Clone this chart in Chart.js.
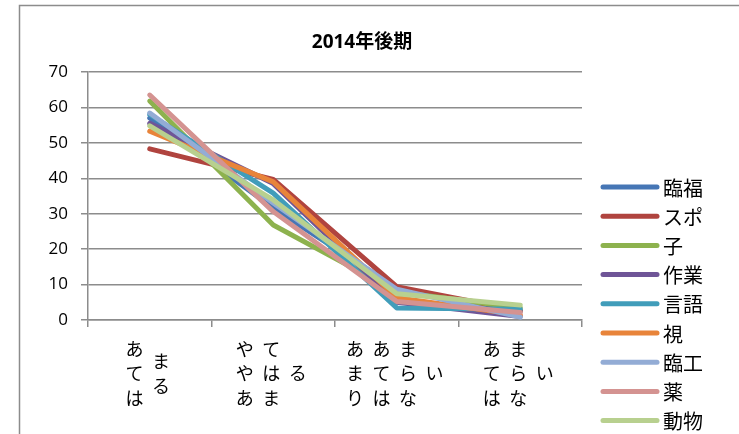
<!DOCTYPE html>
<html>
<head>
<meta charset="utf-8">
<script src="https://cdn.jsdelivr.net/npm/chart.js@4.4.0/dist/chart.umd.min.js"></script>
<style>
  html, body { margin: 0; padding: 0; background: #fff; }
  #wrap { width: 739px; height: 434px; }
</style>
</head>
<body>
<div id="wrap"><canvas id="c" width="739" height="434"></canvas></div>
<script>
const titleText = '2014年後期';
const categories = ['あてはまる', 'ややあてはまる', 'あまりあてはまらない', 'あてはまらない'];
const seriesNames = ['臨福', 'スポ', '子', '作業', '言語', '視', '臨工', '薬', '動物'];
const s臨福 = [57.0, 31.6, 9.0, 2.4];
const sスポ = [48.3, 39.7, 9.4, 2.6];
const s子 = [61.8, 26.8, 8.0, 3.4];
const s作業 = [55.5, 38.5, 5.0, 1.0];
const s言語 = [58.0, 35.8, 3.4, 3.0];
const s視 = [53.3, 39.0, 6.3, 1.4];
const s臨工 = [58.4, 33.0, 8.7, 0.8];
const s薬 = [63.5, 30.6, 5.2, 2.1];
const s動物 = [54.8, 33.9, 7.4, 4.2];
const seriesValues = [s臨福, sスポ, s子, s作業, s言語, s視, s臨工, s薬, s動物];
const yTicks = [0, 10, 20, 30, 40, 50, 60, 70];

const colors = ['#4676B5', '#B0443F', '#8DB24E', '#6F5597', '#419DBA', '#E8843A', '#93ACD5', '#D49391', '#B8D08F'];
const gridColor = '#8c8c8c';
const latinFont = "'Open Sans', 'Noto Sans CJK JP', sans-serif";
const cjkFont = "'Noto Sans CJK JP', sans-serif";

const datasets = seriesNames.map((name, i) => ({
  label: name,
  data: seriesValues[i],
  borderColor: colors[i],
  backgroundColor: colors[i],
  borderWidth: 5,
  borderCapStyle: 'round',
  borderJoinStyle: 'round',
  pointRadius: 0,
  pointHoverRadius: 0,
  tension: 0,
  fill: false,
  order: seriesNames.length - i
}));

const frame = {
  id: 'frame',
  beforeDraw(chart) {
    const ctx = chart.ctx;
    ctx.save();
    ctx.fillStyle = '#fff';
    ctx.fillRect(0, 0, chart.width, chart.height);
    ctx.strokeStyle = gridColor;
    ctx.lineWidth = 1.5;
    ctx.strokeRect(19.5, 5.5, chart.width + 20, chart.height + 20);
    ctx.restore();
  }
};

const chartTitle = {
  id: 'chartTitle',
  afterDraw(chart) {
    const ctx = chart.ctx;
    ctx.save();
    ctx.fillStyle = '#000';
    ctx.font = 'bold 19px ' + latinFont;
    ctx.textAlign = 'center';
    ctx.textBaseline = 'middle';
    ctx.fillText(titleText, 362, chart.chartArea.top - 29);
    ctx.restore();
  }
};

const verticalLabels = {
  id: 'verticalLabels',
  afterDraw(chart) {
    const ctx = chart.ctx;
    const xs = chart.scales.x;
    const area = chart.chartArea;
    ctx.save();
    ctx.fillStyle = '#000';
    ctx.font = '18px ' + cjkFont;
    ctx.textAlign = 'center';
    ctx.textBaseline = 'middle';
    const perCol = 3, colGap = 26.5, rowGap = 24.5;
    const midY = area.bottom + 53.5;
    categories.forEach((lab, i) => {
      const cx = xs.getPixelForValue(i) - 2;
      const chars = Array.from(lab);
      const cols = [];
      for (let k = 0; k < chars.length; k += perCol) cols.push(chars.slice(k, k + perCol));
      cols.forEach((col, c) => {
        const x = cx + (c - (cols.length - 1) / 2) * colGap;
        col.forEach((ch, r) => {
          const y = midY + (r - (col.length - 1) / 2) * rowGap;
          ctx.fillText(ch, x, y);
        });
      });
    });
    ctx.restore();
  }
};

const sideLegend = {
  id: 'sideLegend',
  afterDraw(chart) {
    const ctx = chart.ctx;
    const area = chart.chartArea;
    const x0 = area.right + 21, len = 54;
    const y0 = area.top + 115, gap = 29.2;
    ctx.save();
    ctx.font = '20px ' + cjkFont;
    ctx.textAlign = 'left';
    ctx.textBaseline = 'middle';
    chart.data.datasets.forEach((ds, i) => {
      const y = y0 + i * gap;
      ctx.strokeStyle = ds.borderColor;
      ctx.lineWidth = 5;
      ctx.lineCap = 'round';
      ctx.beginPath();
      ctx.moveTo(x0, y);
      ctx.lineTo(x0 + len, y);
      ctx.stroke();
      ctx.fillStyle = '#000';
      ctx.fillText(ds.label, x0 + len + 6, y + 1);
    });
    ctx.restore();
  }
};

new Chart(document.getElementById('c'), {
  type: 'line',
  data: { labels: categories, datasets },
  options: {
    responsive: false,
    animation: false,
    devicePixelRatio: 1,
    layout: { padding: { left: 30, right: 157, top: 72, bottom: 0 } },
    plugins: {
      legend: { display: false },
      tooltip: { enabled: false },
      title: { display: false }
    },
    scales: {
      x: {
        offset: true,
        grid: { offset: true, drawOnChartArea: false, drawTicks: true, tickLength: 7, color: gridColor, lineWidth: 1.5 },
        border: { display: true, color: gridColor, width: 1.5 },
        ticks: { display: false },
        afterFit(s) { s.height = 114; }
      },
      y: {
        min: 0,
        max: 70,
        afterBuildTicks(s) { s.ticks = yTicks.map(v => ({ value: v })); },
        grid: { color: gridColor, lineWidth: 1.5, drawTicks: true, tickLength: 7 },
        border: { display: true, color: gridColor, width: 1.5 },
        ticks: { color: '#000', font: { family: latinFont, size: 17 }, padding: 13 },
        afterFit(s) { s.width = 58; }
      }
    }
  },
  plugins: [frame, chartTitle, verticalLabels, sideLegend]
});
</script>
</body>
</html>
